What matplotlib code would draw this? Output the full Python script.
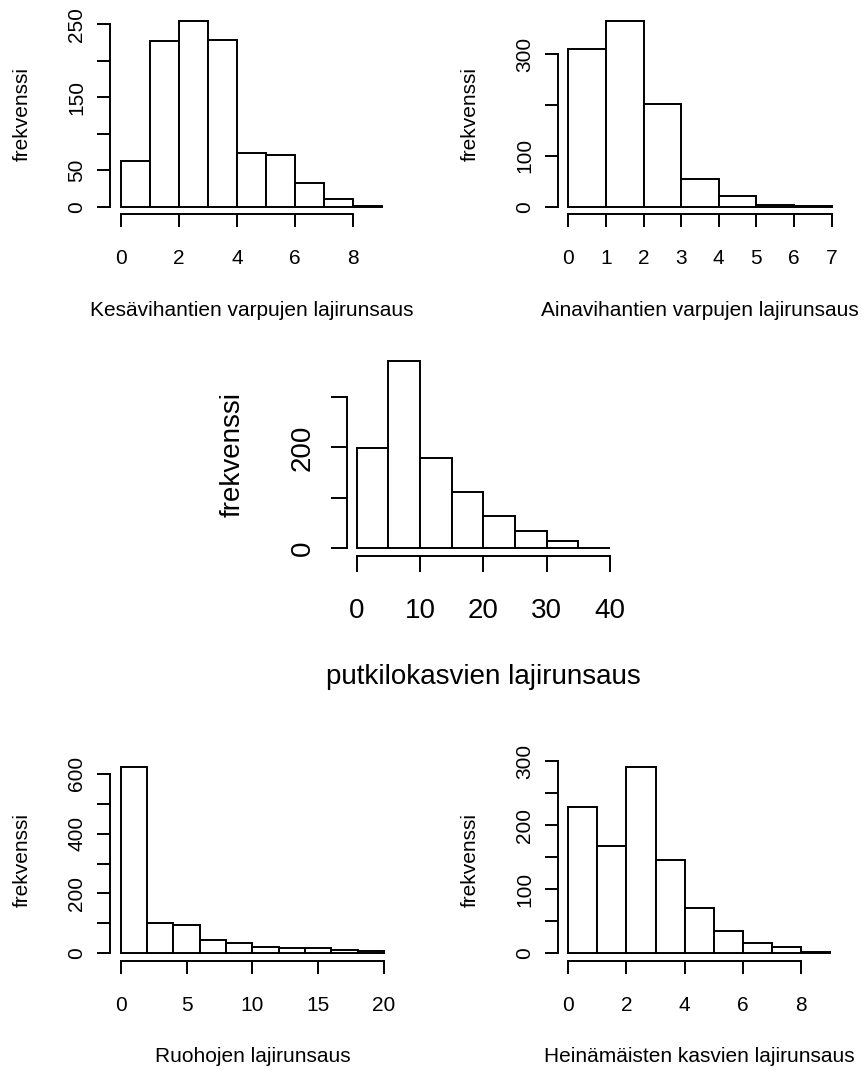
import matplotlib
matplotlib.use("Agg")
import matplotlib.pyplot as plt
import numpy as np

# ---------------- data ----------------
kesa_breaks = [0, 1, 2, 3, 4, 5, 6, 7, 8, 9]
kesa_counts = [62, 227, 254, 229, 74, 71, 32, 10, 1]
kesa_xticks = [0, 2, 4, 6, 8]
kesa_yticks = [0, 50, 100, 150, 200, 250]
kesa_ylabels = ["0", "50", "", "150", "", "250"]
kesa_title = "Kesävihantien varpujen lajirunsaus"

aina_breaks = [0, 1, 2, 3, 4, 5, 6, 7]
aina_counts = [309, 365, 202, 54, 21, 4, 1]
aina_xticks = [0, 1, 2, 3, 4, 5, 6, 7]
aina_yticks = [0, 100, 200, 300]
aina_ylabels = ["0", "100", "", "300"]
aina_title = "Ainavihantien varpujen lajirunsaus"

putki_breaks = [0, 5, 10, 15, 20, 25, 30, 35, 40]
putki_counts = [198, 371, 178, 112, 63, 35, 14, 1]
putki_xticks = [0, 10, 20, 30, 40]
putki_yticks = [0, 100, 200, 300]
putki_ylabels = ["0", "", "200", ""]
putki_title = "putkilokasvien lajirunsaus"

ruoho_breaks = [0, 2, 4, 6, 8, 10, 12, 14, 16, 18, 20]
ruoho_counts = [622, 101, 95, 46, 33, 22, 17, 16, 12, 6]
ruoho_xticks = [0, 5, 10, 15, 20]
ruoho_yticks = [0, 100, 200, 300, 400, 500, 600]
ruoho_ylabels = ["0", "", "200", "", "400", "", "600"]
ruoho_title = "Ruohojen lajirunsaus"

heina_breaks = [0, 1, 2, 3, 4, 5, 6, 7, 8, 9]
heina_counts = [228, 168, 290, 145, 70, 34, 16, 10, 2]
heina_xticks = [0, 2, 4, 6, 8]
heina_yticks = [0, 50, 100, 150, 200, 250, 300]
heina_ylabels = ["0", "", "100", "", "200", "", "300"]
heina_title = "Heinämäisten kasvien lajirunsaus"

ylab = "frekvenssi"

# ---------------- layout ----------------
W, H, DPI = 861, 1070, 100
plt.rcParams["font.family"] = ["Liberation Sans", "DejaVu Sans"]

fig = plt.figure(figsize=(W / DPI, H / DPI), dpi=DPI)
fig.patch.set_facecolor("white")

LW = 1.4


def px_axes(left, right, top, bottom):
    return fig.add_axes([left / W, 1 - bottom / H, (right - left) / W, (bottom - top) / H])


def panel(box, breaks, counts, xticks, yticks, ylabels, xlabel, fs,
          ticklen, ypad, xpad, xlab_off, ylab_off):
    left, right, top, bottom = box
    ax = px_axes(left, right, top, bottom)
    b = np.asarray(breaks, dtype=float)
    c = np.asarray(counts, dtype=float)
    ax.bar(b[:-1], c, width=np.diff(b), align="edge", facecolor="white",
           edgecolor="black", linewidth=LW)
    rng = b[-1] - b[0]
    ax.set_xlim(b[0] - 0.04 * rng, b[-1] + 0.04 * rng)
    ax.set_ylim(-0.04 * c.max(), 1.04 * c.max())
    for s in ("top", "right"):
        ax.spines[s].set_visible(False)
    ax.spines["left"].set_bounds(yticks[0], yticks[-1])
    ax.spines["bottom"].set_bounds(xticks[0], xticks[-1])
    for s in ("left", "bottom"):
        ax.spines[s].set_linewidth(LW)
    ax.set_xticks(xticks)
    ax.set_xticklabels([str(t) for t in xticks], fontsize=fs)
    ax.set_yticks(yticks)
    ax.set_yticklabels(ylabels, fontsize=fs, rotation=90, va="center")
    ax.tick_params(axis="both", direction="out", length=ticklen, width=LW)
    ax.tick_params(axis="y", pad=ypad)
    ax.tick_params(axis="x", pad=xpad)
    w = right - left
    h = bottom - top
    ax.set_xlabel(xlabel, fontsize=fs)
    ax.xaxis.set_label_coords(0.5, -xlab_off / h)
    ax.xaxis.label.set_verticalalignment("center")
    ax.set_ylabel(ylab, fontsize=fs)
    ax.yaxis.set_label_coords(-ylab_off / w, 0.5)
    ax.yaxis.label.set_verticalalignment("center")
    ax.yaxis.label.set_horizontalalignment("center")
    ax.set_facecolor("none")
    return ax


FS = 15
FS_BIG = 20
small = dict(fs=FS, ticklen=9.6, ypad=7.6, xpad=15.6, xlab_off=96, ylab_off=87.7)
big = dict(fs=FS_BIG, ticklen=11.5, ypad=10.6, xpad=19.0, xlab_off=121, ylab_off=114)

panel((110.2, 392.9, 14.0, 214.1), kesa_breaks, kesa_counts, kesa_xticks,
      kesa_yticks, kesa_ylabels, kesa_title, **small)
panel((557.8, 842.2, 13.5, 214.1), aina_breaks, aina_counts, aina_xticks,
      aina_yticks, aina_ylabels, aina_title, **small)
panel((346.5, 620.2, 353.5, 555.8), putki_breaks, putki_counts, putki_xticks,
      putki_yticks, putki_ylabels, putki_title, **big)
panel((110.2, 394.6, 759.9, 960.7), ruoho_breaks, ruoho_counts, ruoho_xticks,
      ruoho_yticks, ruoho_ylabels, ruoho_title, **small)
panel((557.8, 840.5, 760.0, 960.7), heina_breaks, heina_counts, heina_xticks,
      heina_yticks, heina_ylabels, heina_title, **small)

fig.savefig("out.png", dpi=DPI, facecolor="white")
